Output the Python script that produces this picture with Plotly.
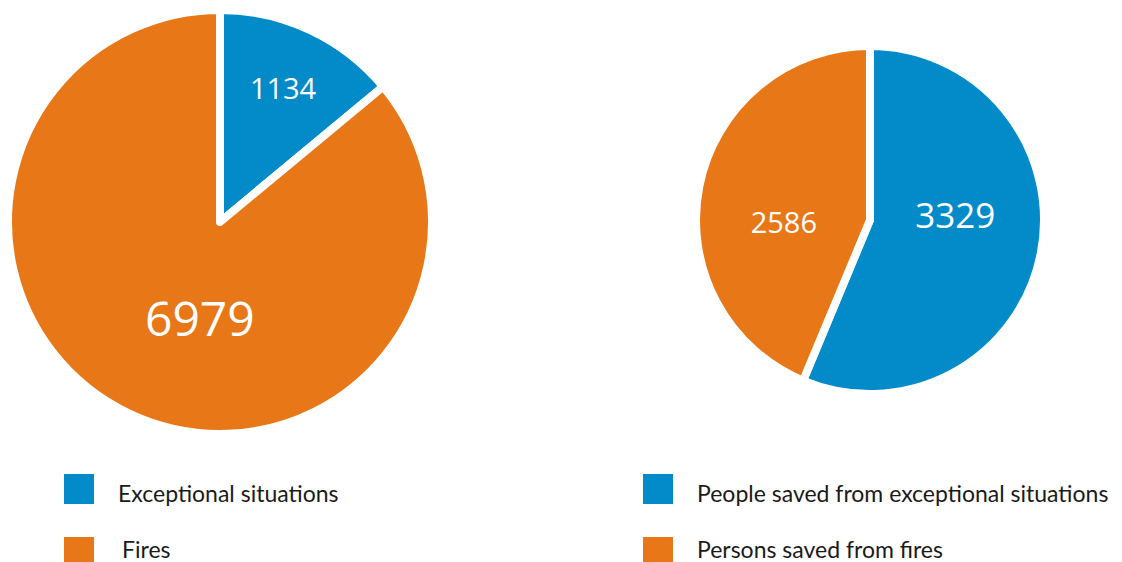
import plotly.graph_objects as go

# left pie: incidents
incident_labels = ["Exceptional situations", "Fires"]
incident_values = [1134, 6979]

# right pie: people saved
saved_labels = ["People saved from exceptional situations", "Persons saved from fires"]
saved_values = [3329, 2586]

BLUE = "#038BC9"
ORANGE = "#E87718"
COLORS = [BLUE, ORANGE]
W, H = 1122, 562
OFF = 8  # page body margin pushes the plot 8px right/down
NB = "\u00a0"


def px_x(v):
    return max(0.0, (v - OFF) / W)


def px_y(v):
    return 1 - (v - OFF) / H


fig = go.Figure()

fig.add_trace(go.Pie(
    labels=incident_labels, values=incident_values,
    sort=False, direction="clockwise", rotation=0,
    marker=dict(colors=COLORS, line=dict(color="white", width=8)),
    texttemplate=["%{value}", NB * 4 + "%{value}"],
    textposition="inside", insidetextorientation="horizontal",
    textfont=dict(family="Open Sans", color="white", size=[29, 48]),
    domain=dict(x=[px_x(8), px_x(432)], y=[px_y(436), px_y(8)]),
    showlegend=False, hoverinfo="label+value",
))

fig.add_trace(go.Pie(
    labels=saved_labels, values=saved_values,
    sort=False, direction="clockwise", rotation=0,
    marker=dict(colors=COLORS, line=dict(color="white", width=8)),
    texttemplate=["%{value}<br>" + NB, NB + "<br>%{value}"],
    textposition="inside", insidetextorientation="horizontal",
    textfont=dict(family="Open Sans", color="white", size=[35, 29]),
    domain=dict(x=[px_x(696), px_x(1044)], y=[px_y(394), px_y(46)]),
    showlegend=False, hoverinfo="label+value",
))

# hand-drawn legends (big square swatches like the original)
legend_rows = [
    (incident_labels, 64, [116, 120]),
    (saved_labels, 643, [695, 695]),
]
row_tops = [474, 537]
text_mid = [493, 549]
for labels, sq_x, text_x in legend_rows:
    for i, lab in enumerate(labels):
        top = row_tops[i]
        fig.add_shape(
            type="rect", xref="paper", yref="paper",
            x0=px_x(sq_x), x1=px_x(sq_x + 30), y0=px_y(top + 30), y1=px_y(top),
            fillcolor=COLORS[i], line_width=0,
        )
        fig.add_annotation(
            x=px_x(text_x[i]), y=px_y(text_mid[i]), xref="paper", yref="paper",
            text=lab, showarrow=False, xanchor="left", yanchor="middle",
            font=dict(family="Lato", size=23, color="#1a1a1a"),
        )

fig.update_layout(
    width=W, height=H,
    margin=dict(l=0, r=0, t=0, b=0),
    paper_bgcolor="white", plot_bgcolor="white",
)

fig.write_html("out.html")
